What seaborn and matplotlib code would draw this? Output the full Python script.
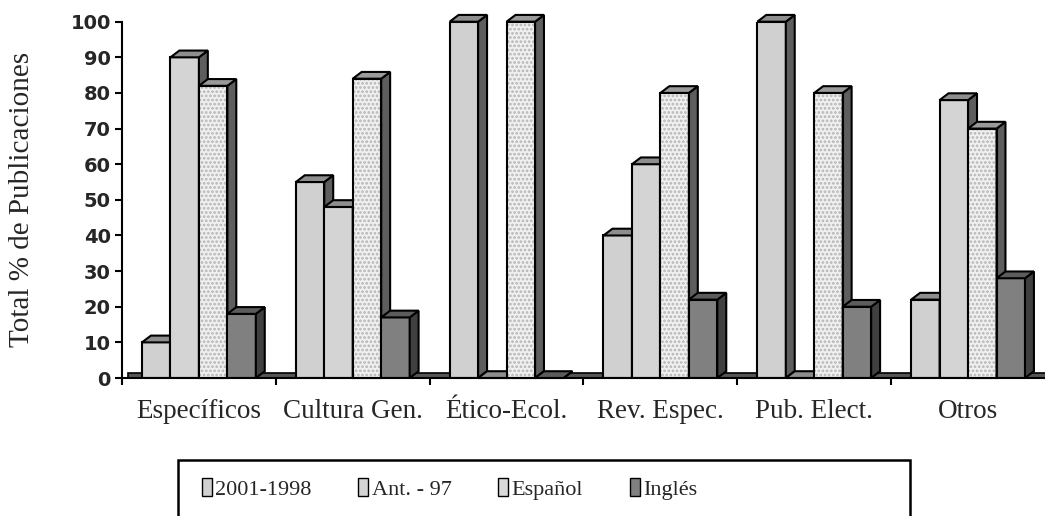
import matplotlib
matplotlib.use("Agg")
import matplotlib.pyplot as plt
import seaborn as sns
import pandas as pd
import numpy as np
from matplotlib.patches import Polygon, Rectangle
from matplotlib.ticker import MultipleLocator, FixedLocator

categories = ["Específicos", "Cultura Gen.", "Ético-Ecol.", "Rev. Espec.", "Pub. Elect.", "Otros"]
series = ["2001-1998", "Ant. - 97", "Español", "Inglés"]
v_2001 = [10, 55, 100, 40, 100, 22]
v_ant97 = [90, 48, 0, 60, 0, 78]
v_esp = [82, 84, 100, 80, 80, 70]
v_ing = [18, 17, 0, 22, 20, 28]

front = {"2001-1998": "#d0d0d0", "Ant. - 97": "#d4d4d4", "Español": "#f0f0f0", "Inglés": "#808080"}
top = {"2001-1998": "#8e8e8e", "Ant. - 97": "#8e8e8e", "Español": "#9a9a9a", "Inglés": "#5c5c5c"}
side = {"2001-1998": "#5e5e5e", "Ant. - 97": "#5e5e5e", "Español": "#5e5e5e", "Inglés": "#404040"}

df = pd.DataFrame({
    "categoria": categories * 4,
    "serie": np.repeat(series, len(categories)),
    "valor": v_2001 + v_ant97 + v_esp + v_ing,
})

sns.set_style("white")
plt.rcParams["hatch.linewidth"] = 1.3
serif = ["Liberation Serif", "DejaVu Serif"]

fig = plt.figure(figsize=(10.45, 5.16), dpi=100)
ax = fig.add_axes([122 / 1045, 138 / 516, 923 / 1045, 356.3 / 516])

sns.barplot(data=df, x="categoria", y="valor", hue="serie", order=categories,
            hue_order=series, palette=front, width=0.74, saturation=1,
            edgecolor="black", linewidth=1.5, legend=False, ax=ax)

ax.set_xlim(-0.5, 5.5)
ax.set_ylim(0, 100)

# 3D look: floor, top and side faces
dx, dy = 0.058, 1.9
ax.add_patch(Rectangle((-0.46, 0), 6.0, 1.4, facecolor="#555555", edgecolor="black",
                       linewidth=1.2, zorder=1.5, clip_on=False))

bars = []
for name, cont in zip(series, ax.containers):
    for p in cont.patches:
        bars.append((p.get_x(), name, p))
bars.sort(key=lambda b: b[0])
for i, (_, name, p) in enumerate(bars):
    z = 3 + i * 0.01
    x0, w, h = p.get_x(), p.get_width(), p.get_height()
    x1 = x0 + w
    p.set_zorder(z)
    ax.add_patch(Polygon([(x1, 0), (x1 + dx, dy), (x1 + dx, h + dy), (x1, h)], closed=True,
                         facecolor=side[name], edgecolor="black", linewidth=1.5,
                         zorder=z, clip_on=False))
    ax.add_patch(Polygon([(x0, h), (x0 + dx, h + dy), (x1 + dx, h + dy), (x1, h)], closed=True,
                         facecolor=top[name], edgecolor="black", linewidth=1.5,
                         zorder=z, clip_on=False))
    if name == "Español":
        p.set_edgecolor("#b4b4b4")
        p.set_hatch("....")
        p.set_linewidth(0)
        ax.add_patch(Rectangle((x0, 0), w, h, facecolor="none", edgecolor="black",
                               linewidth=1.5, zorder=z + 0.001, clip_on=False))

sns.despine(ax=ax)
for s in ["left", "bottom"]:
    ax.spines[s].set_linewidth(1.5)
    ax.spines[s].set_color("black")
    ax.spines[s].set_zorder(5)

ax.yaxis.set_major_locator(MultipleLocator(10))
ax.tick_params(axis="y", direction="out", length=5, width=1.5, color="black", pad=3, left=True)
for t in ax.get_yticklabels():
    t.set_fontfamily("DejaVu Sans")
    t.set_fontweight("bold")
    t.set_fontsize(14)

ax.xaxis.set_minor_locator(FixedLocator([-0.5, 0.5, 1.5, 2.5, 3.5, 4.5]))
ax.tick_params(axis="x", which="major", length=0, pad=15)
ax.tick_params(axis="x", which="minor", direction="out", length=5, width=1.5, color="black", bottom=True)
ax.set_xticks(range(len(categories)))
ax.set_xticklabels(categories, fontfamily=serif, fontsize=19.5)

ax.set_xlabel("")
ax.set_ylabel("Total % de Publicaciones", fontfamily=serif, fontsize=21)
ax.yaxis.set_label_coords(-0.094, 0.5)

handles = [Rectangle((0, 0), 1, 1, facecolor=("#dadada" if s == "Español" else front[s]),
                     edgecolor="black", linewidth=1) for s in series]
leg = fig.legend(handles, series, loc="center left", ncol=4,
                 bbox_to_anchor=(202 / 1045, 1 - 489 / 516),
                 frameon=False, borderpad=0, handlelength=0.45, handleheight=0.85,
                 handletextpad=0.15, columnspacing=2.1, borderaxespad=0,
                 prop={"family": serif, "size": 16})
fig.add_artist(Rectangle((178 / 1045, -0.05), 732 / 1045, 0.05 + (516 - 460) / 516,
                         transform=fig.transFigure, fill=False, edgecolor="black",
                         linewidth=1.8))

fig.savefig("out.png", dpi=100)
